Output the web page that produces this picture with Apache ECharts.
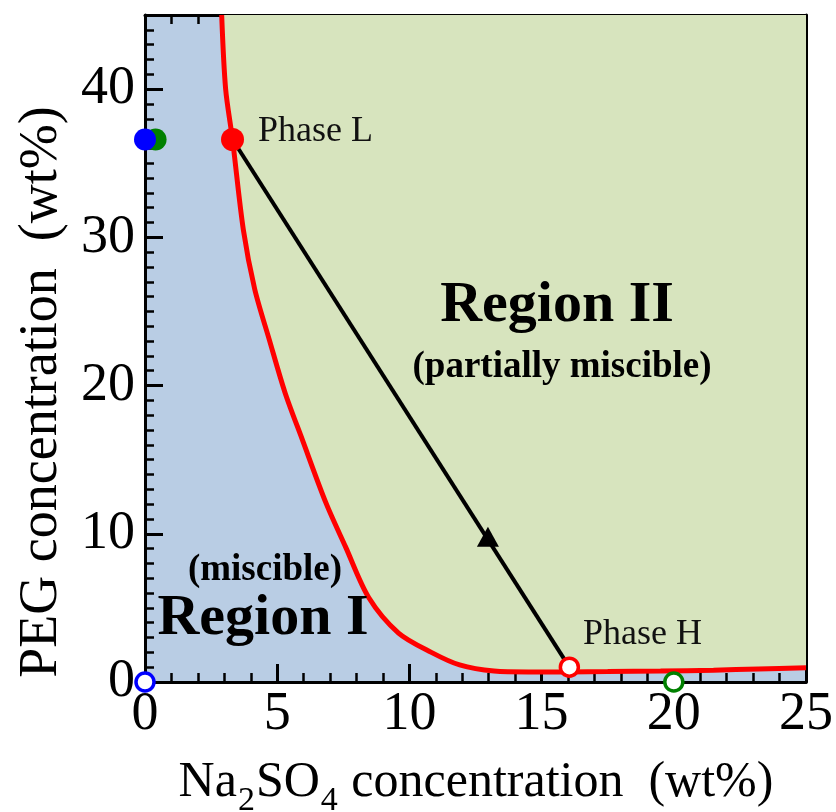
<!DOCTYPE html>
<html><head><meta charset="utf-8">
<script src="https://cdn.jsdelivr.net/npm/echarts@6/dist/echarts.min.js"></script>
<style>html,body{margin:0;padding:0;background:#fff}#c{width:836px;height:812px}</style>
</head><body><div id="c"></div>
<script>
// ---- data ----
const binodalX = [2.9, 3.05, 3.31, 3.72, 4.15, 4.7, 5.3, 5.94, 6.84, 7.59, 8.46, 9.59, 10.83, 11.9, 13.2, 14.5, 16, 17.5, 19.5, 21.5, 23.2, 25];
const binodalY = [45, 40, 36.6, 30.5, 26.5, 23.1, 19.5, 16.4, 12.1, 9.1, 5.7, 3.3, 2.0, 1.15, 0.74, 0.68, 0.68, 0.7, 0.74, 0.8, 0.88, 0.96];
const tieLineX = [3.31, 16.05];
const tieLineY = [36.6, 1.0];
const mixturePoint = [12.97, 9.8];
const phaseL = [3.31, 36.6];
const phaseH = [16.05, 1.0];
const bluePeg = [0, 36.6];
const greenPeg = [0.4, 36.6];
const blueOrigin = [0, 0];
const greenSalt = [20, 0];
const xTicks = [0, 5, 10, 15, 20, 25];
const yTicks = [0, 10, 20, 30, 40];

const FONT = '"Liberation Serif", "Times New Roman", serif';
const BLUE_BG = '#b9cde4';
const GREEN_BG = '#d7e4be';

function zip(a, b) { return a.map((v, i) => [v, b[i]]); }

function majorAxis(pos, showLabel, ticks, max, interval) {
  return {
    type: 'value', min: 0, max: max, interval: interval, position: pos,
    axisLine: { show: true, onZero: false, lineStyle: { color: '#000', width: 3 } },
    axisTick: { show: true, inside: true, length: 18, lineStyle: { color: '#000', width: 3 } },
    splitLine: { show: false },
    axisLabel: {
      show: showLabel, fontFamily: FONT, fontSize: 54, color: '#000',
      margin: (pos === 'bottom') ? 6 : 10,
      formatter: v => ticks.includes(v) ? String(v) : ''
    }
  };
}
function minorAxis(pos, max) {
  return {
    type: 'value', min: 0, max: max, interval: 1, position: pos,
    axisLine: { show: false, onZero: false },
    axisTick: { show: true, inside: true, length: 9, lineStyle: { color: '#000', width: 2.5 } },
    splitLine: { show: false },
    axisLabel: { show: false }
  };
}
function pointSeries(pt, size, style, z, symbol) {
  return { type: 'scatter', data: [pt], symbol: symbol || 'circle', symbolSize: size, clip: false,
    itemStyle: Object.assign({ opacity: 1 }, style), z: z };
}

const chart = echarts.init(document.getElementById('c'), null, { renderer: 'canvas' });
chart.setOption({
  animation: false,
  backgroundColor: '#fff',
  grid: { left: 145, right: 26, top: 15, bottom: 130, show: true, backgroundColor: BLUE_BG, borderWidth: 0 },
  xAxis: [
    majorAxis('bottom', true, xTicks, 25, 5),
    majorAxis('top', false, xTicks, 25, 5),
    minorAxis('bottom', 25),
    minorAxis('top', 25)
  ],
  yAxis: [
    majorAxis('left', true, yTicks, 45, 10),
    majorAxis('right', false, yTicks, 45, 10),
    minorAxis('left', 45),
    minorAxis('right', 45)
  ],
  series: [
    {
      type: 'line', data: zip(binodalX, binodalY), smooth: 0.3,
      symbol: 'none', lineStyle: { color: '#ff0000', width: 5 },
      areaStyle: { color: GREEN_BG, opacity: 1, origin: 'end' }, z: 2
    },
    {
      type: 'line', data: zip(tieLineX, tieLineY), symbol: 'none',
      lineStyle: { color: '#000', width: 4 }, z: 3
    },
    pointSeries(mixturePoint, [22, 20], { color: '#000' }, 4, 'triangle'),
    pointSeries(greenPeg, 22, { color: '#008000' }, 5),
    pointSeries(bluePeg, 22, { color: '#0000ff' }, 6),
    pointSeries(phaseL, 23, { color: '#ff0000' }, 6),
    pointSeries(phaseH, 18, { color: '#fff', borderColor: '#ff0000', borderWidth: 3.5 }, 6),
    pointSeries(blueOrigin, 18, { color: '#fff', borderColor: '#0000ff', borderWidth: 3.5 }, 6),
    pointSeries(greenSalt, 18, { color: '#fff', borderColor: '#008000', borderWidth: 3.5 }, 6)
  ],
  graphic: [
    { type: 'text', left: 258, top: 114, z: 100,
      style: { text: 'Phase L', font: '36px ' + FONT, fill: '#111' } },
    { type: 'text', left: 583, top: 617, z: 100,
      style: { text: 'Phase H', font: '36px ' + FONT, fill: '#111' } },
    { type: 'text', x: 557, y: 306, z: 100,
      style: { text: 'Region II', font: 'bold 58px ' + FONT, fill: '#000', align: 'center', verticalAlign: 'middle' } },
    { type: 'text', x: 562, y: 367, z: 100,
      style: { text: '(partially miscible)', font: 'bold 37px ' + FONT, fill: '#000', align: 'center', verticalAlign: 'middle' } },
    { type: 'text', x: 265, y: 570, z: 100,
      style: { text: '(miscible)', font: 'bold 37px ' + FONT, fill: '#000', align: 'center', verticalAlign: 'middle' } },
    { type: 'text', x: 263, y: 619, z: 100,
      style: { text: 'Region I', font: 'bold 58px ' + FONT, fill: '#000', align: 'center', verticalAlign: 'middle' } },
    { type: 'text', x: 42, y: 392, rotation: Math.PI / 2, z: 100,
      style: { text: 'PEG concentration  (wt%)', font: '54px ' + FONT, fill: '#000', align: 'center', verticalAlign: 'middle' } },
    { type: 'text', x: 476, y: 783, z: 100,
      style: {
        text: '{a|Na}{s|2}{a|SO}{s|4}{a| concentration  (wt%)}',
        align: 'center', verticalAlign: 'middle',
        rich: {
          a: { fontFamily: FONT, fontSize: 50, lineHeight: 50, verticalAlign: 'top', fill: '#000', color: '#000' },
          s: { fontFamily: FONT, fontSize: 34, lineHeight: 34, verticalAlign: 'top', padding: [26, 1, 0, 1], fill: '#000', color: '#000' }
        }
      } }
  ]
});
</script></body></html>
